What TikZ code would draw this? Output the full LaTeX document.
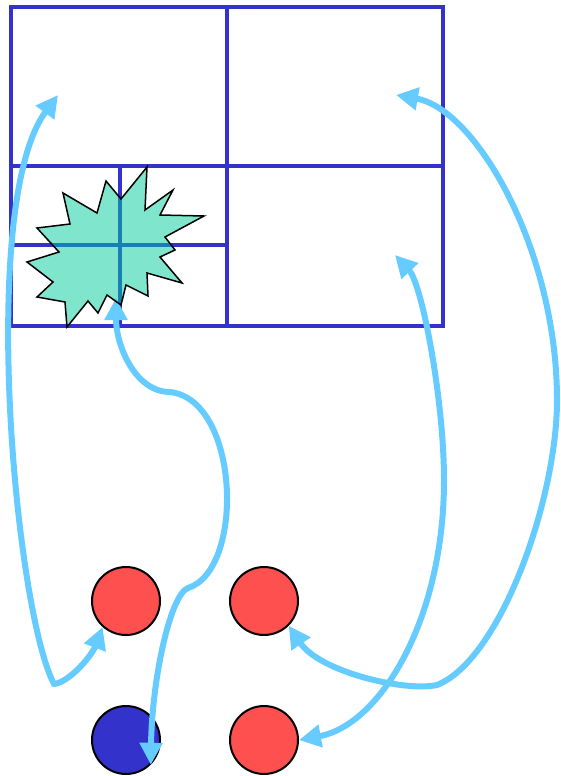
\documentclass[tikz,border=0pt]{standalone}
\usetikzlibrary{arrows.meta}
\definecolor{gridblue}{RGB}{51,51,204}
\definecolor{arrowblue}{RGB}{102,204,255}
\definecolor{dotred}{RGB}{255,80,80}
\definecolor{dotblue}{RGB}{51,51,204}
\definecolor{starfill}{RGB}{0,204,153}
\begin{document}
\begin{tikzpicture}[x=1pt,y=-1pt,
  gridline/.style={draw=gridblue, line width=3.5pt},
  dot/.style={circle, draw=black, line width=2pt, minimum size=68pt, inner sep=0pt},
  link/.style={draw=arrowblue, line width=6pt, line join=round, >={Triangle[length=22pt,width=22pt]}, <->},
  burst/.style={fill=starfill, fill opacity=0.5, draw=black, line width=1.5pt, line join=miter}
]
\useasboundingbox (0,0) rectangle (560,776);
% grid
\draw[gridline] (11,7) rectangle (443,326);
\draw[gridline] (11,166) -- (443,166);
\draw[gridline] (227,7) -- (227,326);
\draw[gridline] (11,245) -- (227,245);
\draw[gridline] (120,166) -- (120,326);
% dots
\node[dot, fill=dotred]  (c1) at (126,601) {};
\node[dot, fill=dotred]  (c2) at (264,601) {};
\node[dot, fill=dotblue] (c3) at (126,740) {};
\node[dot, fill=dotred]  (c4) at (264,740) {};
% connector ends and bends
\coordinate (pA) at (58,95);
\coordinate (kA) at (54,684);
\coordinate (pB) at (116,298);
\coordinate (kB1) at (170,392);
\coordinate (kB2) at (188,588);
\coordinate (pC) at (395,255);
\coordinate (kC) at (444,480);
\coordinate (pD) at (396,95);
\coordinate (kD1) at (557,400);
\coordinate (kD2) at (437,685);
% connectors
\draw[link] (pA) .. controls (-22,203) and (15,610) .. (kA)
            .. controls (70,682) and (92,655) .. (c1.228);
\draw[link] (pB) .. controls (116,345) and (135,392) .. (kB1)
            .. controls (240,400) and (245,570) .. (kB2)
            .. controls (170,595) and (152,680) .. (c3.315);
\draw[link] (pC) .. controls (422,284) and (444,400) .. (kC)
            .. controls (444,620) and (380,725) .. (c4.east);
\draw[link] (pD) .. controls (476,109) and (557,250) .. (kD1)
            .. controls (557,500) and (500,660) .. (kD2)
            .. controls (405,692) and (320,672) .. (c2.315);
% starburst
\filldraw[burst] (147,167) -- (145,210) -- (173,190) -- (160,215) -- (204,216)
  -- (165,237) -- (175,250) -- (160,257) -- (182,283) -- (147,273) -- (148,296)
  -- (126,285) -- (121,305) -- (107,295) -- (98,313) -- (88,301) -- (67,327)
  -- (65,302) -- (37,297) -- (53,282) -- (27,262) -- (59,252) -- (37,228)
  -- (70,224) -- (63,193) -- (97,213) -- (106,181) -- (121,199) -- cycle;
\end{tikzpicture}
\end{document}
